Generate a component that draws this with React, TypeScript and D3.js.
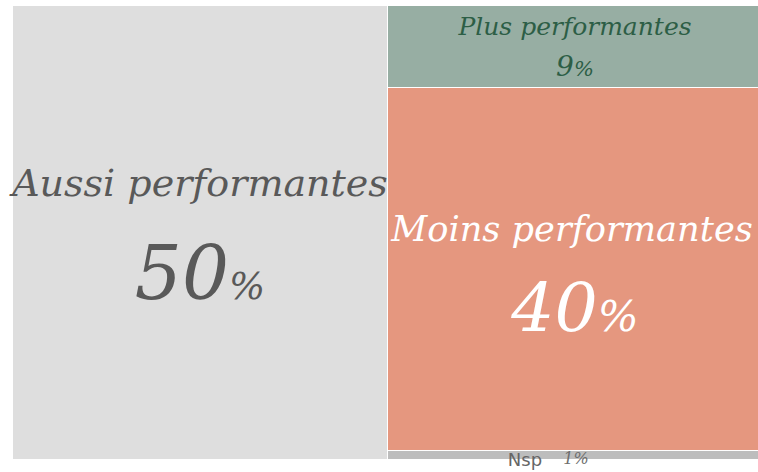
import React from "react";
import * as d3 from "d3";

const categories = ["Aussi performantes", "Plus performantes", "Moins performantes", "Nsp"];
const values = [50, 9, 40, 1];
const valueLabels = ["50", "9", "40", "1"];
const fills = ["#DEDEDE", "#97AEA3", "#E5977F", "#BDBDBD"];
const textColors = ["#595959", "#2D5E46", "#FFFFFF", "#666666"];

const W = 758;
const H = 472;
const X0 = 13;
const Y0 = 6;
const TW = 749;
const TH = 453;

const labelStyles = [
  { nameSize: 38, nameDy: -37, valSize: 74, pctSize: 38, valDy: 66 },
  { nameSize: 25, nameDy: -12, valSize: 28, pctSize: 21, valDy: 29 },
  { nameSize: 35.2, nameDy: -28, valSize: 68, pctSize: 43, valDy: 62 },
];

export default function App() {
  const data = {
    name: "root",
    children: [
      { name: categories[0], value: values[0], idx: 0 },
      {
        name: "right",
        children: [1, 2, 3].map((i) => ({ name: categories[i], value: values[i], idx: i })),
      },
    ],
  };
  const root = d3.hierarchy<any>(data).sum((d: any) => d.value || 0);
  d3.treemap<any>().size([TW, TH]).paddingInner(1).tile(d3.treemapSliceDice).round(true)(root);
  const leaves = root.leaves() as any[];

  return (
    <div style={{ position: "fixed", left: 0, top: 0 }}>
      <svg width={W} height={H} style={{ display: "block", background: "#fff" }}>
        <g transform={`translate(${X0},${Y0})`}>
          {leaves.map((n) => (
            <rect
              key={n.data.name}
              x={n.x0}
              y={n.y0}
              width={n.x1 - n.x0}
              height={n.y1 - n.y0}
              fill={fills[n.data.idx]}
            />
          ))}
          {leaves.map((n) => {
            const i = n.data.idx;
            const cx = (n.x0 + n.x1) / 2;
            const cy = (n.y0 + n.y1) / 2;
            if (i === 3) {
              return (
                <g key={"l" + i}>
                  <text
                    x={cx - 50}
                    y={n.y1 + 7}
                    textAnchor="middle"
                    fontFamily="'DejaVu Sans', Verdana, sans-serif"
                    fontSize={18}
                    fill="#666666"
                  >
                    {categories[i]}
                  </text>
                  <text
                    x={cx + 1}
                    y={n.y1 + 5}
                    textAnchor="middle"
                    fontFamily="'DejaVu Serif', Georgia, serif"
                    fontStyle="italic"
                    fontSize={16}
                    fill="#6e6e6e"
                  >
                    {valueLabels[i]}%
                  </text>
                </g>
              );
            }
            const s = labelStyles[i];
            return (
              <g key={"l" + i} fill={textColors[i]} fontFamily="'DejaVu Serif', Georgia, serif" fontStyle="italic">
                <text x={cx - (i === 2 ? 3 : 0)} y={cy + s.nameDy} textAnchor="middle" fontSize={s.nameSize}>
                  {categories[i]}
                </text>
                <text x={cx} y={cy + s.valDy} textAnchor="middle">
                  <tspan fontSize={s.valSize}>{valueLabels[i]}</tspan>
                  <tspan fontSize={s.pctSize}>%</tspan>
                </text>
              </g>
            );
          })}
        </g>
      </svg>
    </div>
  );
}
